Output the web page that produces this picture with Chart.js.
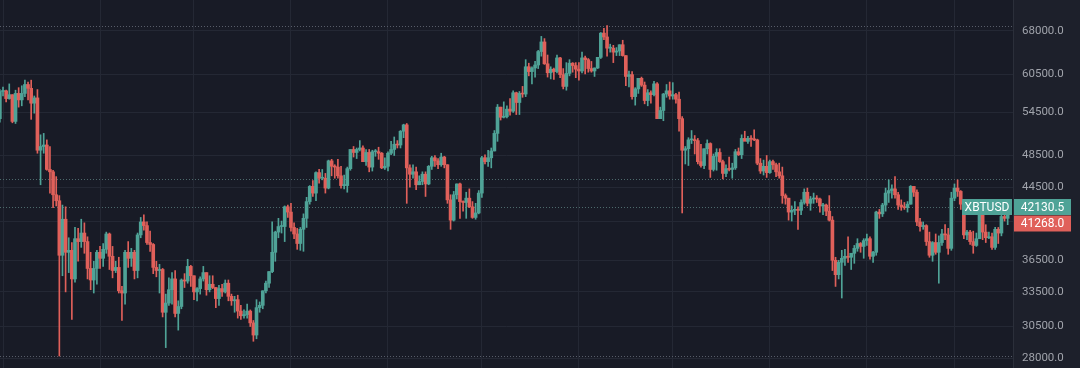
<!DOCTYPE html>
<html>
<head>
<meta charset="utf-8">
<script src="https://cdn.jsdelivr.net/npm/chart.js@4.4.0/dist/chart.umd.min.js"></script>
<style>
    html, body { margin: 0; padding: 0; background: #181b26; overflow: hidden; }
    canvas { display: block; }
</style>
</head>
<body>
<canvas id="myChart" width="1080" height="368"></canvas>
<script>
// daily XBTUSD candles, 2021-04-30 .. 2022-03-18
var firstDay = Date.UTC(2021, 3, 30);

var opens = [
    53600,
    57700,57800,56600,57200,53200,57400,56400,57400,58800,58200,55900,56700,49200,49700,49900,46700,46400,43600,42900,37000,40800,37300,37500,34700,38700,38400,39300,38400,35700,34600,35700,
    37300,36700,37600,39200,36900,35500,35800,33600,33400,37300,36700,37300,35500,39100,40500,40100,38300,38100,35800,35500,35600,31700,32500,33700,34700,31600,32200,34600,34500,35900,
    35000,33500,33800,34700,35300,33700,34200,33900,32900,33800,33500,34300,33100,32700,32800,31800,31400,31500,31800,30800,29800,32100,32300,33600,34300,35400,37300,39400,40000,40000,42200,
    41600,39900,39200,38200,39700,40900,42800,44600,43800,46300,45600,45600,44400,47800,47100,47000,45900,44700,44700,46800,49300,48900,49300,49500,47700,48900,47000,49000,49000,48800,46900,
    47100,48800,49300,50000,49900,51800,52700,46900,46100,46400,44800,45200,46100,44900,47100,48200,47800,47300,48300,47300,43000,40700,43600,44900,42800,42700,43200,42200,41000,41500,
    43800,48200,47700,48200,49100,51500,55300,53800,53900,55000,54700,57500,56000,57400,57300,61700,60900,61500,62000,64300,66000,62200,60700,61300,60900,63200,60400,58500,60600,62300,61900,
    61300,61000,63200,62900,61400,61000,61500,63300,67600,66900,64900,64900,64200,64400,65500,63600,60100,60400,56900,58100,59800,58700,56300,57500,57200,58900,53600,54800,57300,57800,
    57000,57200,56500,53600,49200,49400,50600,50600,50500,47700,47200,49400,50100,46700,48400,48900,47700,46200,46800,46700,46900,49000,48600,50800,50400,50800,50700,50600,47500,46500,47100,
    46300,47700,47300,46400,45900,43500,43200,41600,41800,41900,41800,42700,43900,42600,43100,43200,43100,42300,42400,41700,40700,36500,35100,36300,36700,36900,36800,37200,37700,38200,37900,
    38500,38700,36900,37300,41600,41400,42400,43800,44100,44300,43600,42400,42200,42100,42500,44600,43900,40500,40000,40100,38400,37000,38300,37300,38300,39200,39100,37700,
    43200,44400,44000,42500,39100,39400,38400,38000,38700,41900,39400,38800,38900,37800,39700,39300,41100,40900
];
var highs = [
    58000,
    58400,57900,58900,57200,57900,58300,58600,59500,59200,59500,57000,58000,51300,51500,50600,49700,46600,45800,43500,42400,42200,38800,38300,39900,39800,40800,40400,38900,37300,36400,37500,
    37900,38200,39400,39300,37900,36400,36800,34000,37500,38400,37700,37500,39300,41000,41300,40500,39500,38200,36400,36100,35700,33300,34800,35300,35500,32700,34700,35200,36600,36000,
    35000,33900,34900,35900,35300,35000,35000,33900,34100,34200,34600,34600,33300,33100,33200,32300,31900,32400,31900,31000,32800,32600,33600,34500,35400,40500,39500,40900,40600,42300,42400,
    42600,40400,39800,39900,41400,43300,44700,45300,46400,46700,46700,46200,47900,48000,47300,48000,47100,46000,47000,49300,49700,49500,50500,49800,49300,49300,49200,49300,49600,48900,48200,
    49000,50400,51000,50500,51900,52800,52900,47300,47300,47000,45900,46400,46400,47200,48400,48500,48100,48800,48400,47300,43600,44000,44900,45000,42900,43900,44300,42800,42600,44100,
    48400,48600,49200,49500,51900,55700,55300,56100,55500,56600,57800,57600,57700,58500,62900,62300,61700,62600,64500,67000,66600,63700,61700,61500,63700,63300,61400,62400,62900,62400,62400,
    62400,64200,63500,63100,62600,61500,63300,67700,68500,69000,65600,65400,65000,65500,66300,63600,61000,60900,58300,59800,60000,59200,58000,57800,59300,59100,55300,57400,58800,59200,
    59100,57400,57600,53900,49700,50900,51900,51200,50800,50000,49400,50600,50200,48700,49400,49400,47900,47300,48300,47500,49300,49500,51300,51800,51100,51200,52000,50700,48100,47900,48500,
    47900,47900,47500,47500,47000,43700,43200,42300,42800,42200,43000,44300,44400,43400,43800,43500,43200,42600,42500,43500,41100,36800,36500,37500,37600,38900,37200,38000,38700,38300,38700,
    39200,38900,37400,41700,41900,42600,44400,45400,44800,45800,43900,43000,42700,42800,44700,44600,44200,40900,40500,40200,39400,38400,39200,39000,39700,40200,39800,43900,
    44900,45400,44100,42500,39600,39600,39500,39300,42400,42000,40200,39400,39300,39900,39900,41700,41400,42300
];
var lows = [
    53100,
    57000,56100,56500,53000,52900,55300,55500,56900,56400,53500,54400,48800,44800,48800,46600,43800,42100,42300,28150,35000,33500,35300,31100,34400,36400,37800,37200,34700,33700,33400,34200,
    35700,35900,37200,35600,34800,35300,33400,31000,32400,35800,35900,34700,34800,38800,39600,38100,37400,35200,34900,33400,31300,28800,32300,32400,31300,30200,32000,33900,34300,34000,
    32800,32700,33300,34500,33200,33500,33800,32100,32300,33100,33400,32700,32300,31700,31200,31100,31200,31200,30500,29300,29500,31700,32000,33400,33900,35300,36400,38800,39300,38400,41000,
    39500,38700,37600,37500,37400,39900,42500,43400,42900,45000,45400,43800,44300,45900,45600,45600,44400,44300,43900,46600,48300,48100,49100,47700,47200,46400,46500,48400,48000,46800,46700,
    46500,48600,48500,49500,49500,50900,42600,44500,45600,44200,44800,44800,43400,44800,46700,47100,46800,47100,46900,42600,39700,40600,43100,40900,41700,40900,42100,40900,40800,41400,
    43300,47400,47100,46900,49100,50400,53400,53700,53700,54100,54500,54200,54200,56800,56900,60200,58900,60000,61400,63500,62100,60000,59700,59600,60700,59900,58100,57900,60200,60800,59900,
    59500,60700,60500,60800,60800,60100,61400,63100,66400,63500,64200,62400,63600,63600,63500,58600,58400,56500,55600,57400,58500,55800,55500,55900,57000,53600,53600,53300,56800,56500,
    56500,55900,51800,41500,47400,47200,50100,48700,47400,47000,46800,48700,45700,46500,46600,47600,45500,45800,46500,45600,46700,48500,48100,50500,50100,49700,50500,47300,46200,46000,45700,
    46200,46700,45800,45600,42600,42500,40700,40600,41300,39700,41300,42500,42300,41800,42600,42700,41600,41300,41200,40600,35500,34000,34700,32950,36000,36300,35600,36200,37400,37300,36700,
    38000,36600,36300,37000,40900,41100,41700,42700,43200,43200,41900,41800,41900,41600,42500,43400,40100,39500,39700,38000,36800,36400,37100,34300,38000,38600,37100,37500,
    42900,43400,41900,38700,38600,38100,37200,37900,38700,38600,38300,38700,37600,37600,38200,39000,40600,40200
];
var closes = [
    57700,
    57800,56600,57200,53200,57400,56400,57400,58800,58200,55900,56700,49200,49700,49900,46700,46400,43600,42900,37000,40800,37300,37500,34700,38700,38400,39300,38400,35700,34600,35700,37300,
    36700,37600,39200,36900,35500,35800,33600,33400,37300,36700,37300,35500,39100,40500,40100,38300,38100,35800,35500,35600,31700,32500,33700,34700,31600,32200,34600,34500,35900,35000,
    33500,33800,34700,35300,33700,34200,33900,32900,33800,33500,34300,33100,32700,32800,31800,31400,31500,31800,30800,29800,32100,32300,33600,34300,35400,37300,39400,40000,40000,42200,41600,
    39900,39200,38200,39700,40900,42800,44600,43800,46300,45600,45600,44400,47800,47100,47000,45900,44700,44700,46800,49300,48900,49300,49500,47700,48900,47000,49000,49000,48800,46900,47100,
    48800,49300,50000,49900,51800,52700,46900,46100,46400,44800,45200,46100,44900,47100,48200,47800,47300,48300,47300,43000,40700,43600,44900,42800,42700,43200,42200,41000,41500,43800,
    48200,47700,48200,49100,51500,55300,53800,53900,55000,54700,57500,56000,57400,57300,61700,60900,61500,62000,64300,66000,62200,60700,61300,60900,63200,60400,58500,60600,62300,61900,61300,
    61000,63200,62900,61400,61000,61500,63300,67600,66900,64900,64900,64200,64400,65500,63600,60100,60400,56900,58100,59800,58700,56300,57500,57200,58900,53600,54800,57300,57800,57000,
    57200,56500,53600,49200,49400,50600,50600,50500,47700,47200,49400,50100,46700,48400,48900,47700,46200,46800,46700,46900,49000,48600,50800,50400,50800,50700,50600,47500,46500,47100,46300,
    47700,47300,46400,45900,43500,43200,41600,41800,41900,41800,42700,43900,42600,43100,43200,43100,42300,42400,41700,40700,36500,35100,36300,36700,36900,36800,37200,37700,38200,37900,38500,
    38700,36900,37300,41600,41400,42400,43800,44100,44300,43600,42400,42200,42100,42500,44600,43900,40500,40000,40100,38400,37000,38300,37300,38300,39200,39100,37700,43200,
    44400,44000,42500,39100,39400,38400,38000,38700,41900,39400,38800,38900,37800,39700,39300,41100,40900,42130.5
];

var yTicks = [28000, 30500, 33500, 36500, 40500, 44500, 48500, 54500, 60500, 68000];
var hiddenTicks = [40500];
var symbol = "XBTUSD";
var lastPrice = 42130.5;
var markPrice = 41268.0;
var priceLines = [69000, 45500, 42130.5, 28150];

var upColor = "#4fa397";
var downColor = "#e0605a";

var dates = [];
for (var i = 0; i < closes.length; i++) {
    dates.push(new Date(firstDay + i * 86400000).toISOString().slice(0, 10));
}
var monthStarts = [];
dates.forEach(function (d, i) {
    if (d.slice(8) === "01") monthStarts.push(i);
});

var candleColor = function (ctx) {
    var i = ctx.dataIndex;
    return closes[i] >= opens[i] ? upColor : downColor;
};

var background = {
    id: "background",
    beforeDraw: function (chart) {
        var c = chart.ctx, a = chart.chartArea;
        c.save();
        c.fillStyle = "#181b26";
        c.fillRect(0, 0, chart.width, chart.height);
        c.fillStyle = "#1d202b";
        c.fillRect(a.right, 0, chart.width - a.right, chart.height);
        c.restore();
    }
};

var dottedLines = {
    id: "dottedLines",
    beforeDatasetsDraw: function (chart) {
        var c = chart.ctx, a = chart.chartArea, y = chart.scales.y;
        c.save();
        c.lineWidth = 1;
        c.setLineDash([1, 2]);
        priceLines.forEach(function (p, k) {
            var py = Math.round(y.getPixelForValue(p)) + 0.5;
            c.strokeStyle = (k === 0 || k === priceLines.length - 1) ? "#585d69" : "#4d6a6c";
            c.beginPath();
            c.moveTo(a.left, py);
            c.lineTo(a.right, py);
            c.stroke();
        });
        c.restore();
    }
};

var priceLabels = {
    id: "priceLabels",
    afterDraw: function (chart) {
        var c = chart.ctx, a = chart.chartArea;
        var y = Math.round(chart.scales.y.getPixelForValue(lastPrice));
        var boxW = 57, boxH = 16;
        c.save();
        c.font = "12px Roboto";
        c.textBaseline = "middle";
        c.textAlign = "center";
        // symbol tag
        c.fillStyle = upColor;
        c.fillRect(a.right - 51, y - 8, 50, boxH);
        // last price
        c.fillRect(a.right + 1, y - 8, boxW, boxH);
        // mark price
        c.fillStyle = downColor;
        c.fillRect(a.right + 1, y + 8.5, boxW, boxH);
        c.fillStyle = "#ffffff";
        c.fillText(symbol, a.right - 26, y + 0.5);
        c.fillText(lastPrice.toFixed(1), a.right + 1 + boxW / 2, y + 0.5);
        c.fillText(markPrice.toFixed(1), a.right + 1 + boxW / 2, y + 17);
        c.restore();
    }
};

var ctx = document.getElementById("myChart");
var myChart = new Chart(ctx, {
    type: "bar",
    data: {
        datasets: [
            {
                label: "body",
                order: 0,
                data: dates.map(function (d, i) { return {x: i, y: [opens[i], closes[i]]}; }),
                backgroundColor: candleColor,
                barThickness: 3,
                minBarLength: 1,
                grouped: false,
                borderWidth: 0
            },
            {
                label: "wick",
                order: 1,
                data: dates.map(function (d, i) { return {x: i, y: [lows[i], highs[i]]}; }),
                backgroundColor: candleColor,
                barThickness: 1,
                grouped: false,
                borderWidth: 0
            }
        ]
    },
    options: {
        responsive: false,
        animation: false,
        events: [],
        layout: {padding: 0},
        plugins: {
            legend: {display: false},
            tooltip: {enabled: false}
        },
        scales: {
            x: {
                type: "linear",
                min: 0.04,
                max: 323.7,
                offset: false,
                ticks: {display: false},
                grid: {color: "#242834", drawTicks: false, offset: false},
                border: {display: false},
                afterBuildTicks: function (scale) {
                    scale.ticks = monthStarts.map(function (v) { return {value: v}; });
                },
                afterFit: function (scale) {
                    scale.height = 0;
                    scale.paddingLeft = 0;
                    scale.paddingRight = 0;
                }
            },
            y: {
                type: "logarithmic",
                position: "right",
                min: 27251,
                max: 73953,
                afterBuildTicks: function (scale) {
                    scale.ticks = yTicks.map(function (v) { return {value: v}; });
                },
                afterFit: function (scale) {
                    scale.width = 67;
                    scale.paddingTop = 0;
                    scale.paddingBottom = 0;
                },
                ticks: {
                    padding: 9,
                    color: "#a0a3ab",
                    font: {family: "Roboto", size: 11.5},
                    callback: function (v) {
                        return hiddenTicks.indexOf(v) >= 0 ? "" : v.toFixed(1);
                    }
                },
                grid: {color: "#242834", drawTicks: false},
                border: {color: "#2b2f3a"}
            }
        }
    },
    plugins: [background, dottedLines, priceLabels]
});
</script>
</body>
</html>
